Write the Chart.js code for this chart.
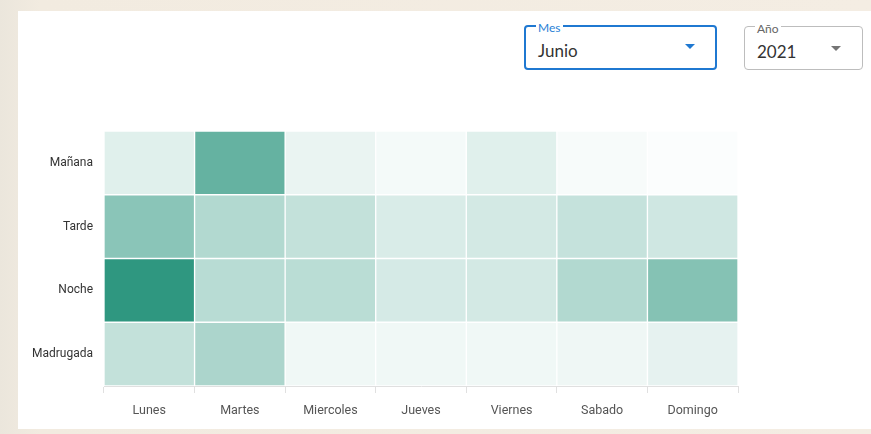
<!DOCTYPE html>
<html>
<head>
<meta charset="utf-8">
<script src="https://cdn.jsdelivr.net/npm/chart.js@4.4.0/dist/chart.umd.min.js"></script>
<style>
  html, body { margin:0; padding:0; }
  body { width:871px; height:434px; position:relative; overflow:hidden;
         background: linear-gradient(90deg, #ebe6dc 0px, #f2ebe0 40px, #f4ede3 100%); }
  #card { position:absolute; left:18px; top:11px; width:853px; height:418px; background:#fff; }
  .sel { position:absolute; box-sizing:border-box; border-radius:4px; font-family:Lato, "Open Sans", sans-serif; }
  .sel .lab { position:absolute; top:-6px; background:#fff; padding:0 2px; font-size:12px; line-height:14px; }
  .sel .val { position:absolute; font-size:17px; line-height:20px; color:#333; }
  .sel .arr { position:absolute; width:0; height:0; border-left:5px solid transparent; border-right:5px solid transparent; }
  #mes { left:524px; top:25px; width:193px; height:45px; border:2px solid #1f78d1; }
  #mes .lab { left:10px; color:#2a7fd6; }
  #mes .val { left:12px; top:14px; }
  #mes .arr { left:159px; top:17px; border-top:5px solid #1f78d1; }
  #anio { left:744px; top:26px; width:119px; height:44px; border:1px solid #bdbdbd; }
  #anio .lab { left:10px; color:#666; top:-5px; }
  #anio .val { left:12px; top:15px; }
  #anio .arr { left:86px; top:19px; border-top:5px solid #757575; }
  #wrap { position:absolute; left:18px; top:100px; width:853px; height:329px; }
</style>
</head>
<body>
<div id="card"></div>
<div class="sel" id="mes"><span class="lab">Mes</span><span class="val">Junio</span><span class="arr"></span></div>
<div class="sel" id="anio"><span class="lab">Año</span><span class="val">2021</span><span class="arr"></span></div>
<div id="wrap"><canvas id="c" width="853" height="329"></canvas></div>
<script>
const days = ["Lunes","Martes","Miercoles","Jueves","Viernes","Sabado","Domingo"];
const periods = ["Mañana","Tarde","Noche","Madrugada"];
const manana    = [15, 74, 10, 5, 15, 4, 2];
const tarde     = [56, 37, 29, 18, 21, 28, 23];
const noche     = [100, 34, 33, 20, 21, 37, 59];
const madrugada = [29, 40, 7, 7, 7, 8, 12];

const rows = [manana, tarde, noche, madrugada];
const maxVal = Math.max(...rows.flat());
function colorFor(v) {
  const a = v / maxVal;
  return `rgba(47,151,128,${a.toFixed(3)})`;
}
// stack from bottom: Madrugada, Noche, Tarde, Mañana
const order = [3, 2, 1, 0];
const datasets = order.map(ri => ({
  label: periods[ri],
  data: days.map(() => 1),
  backgroundColor: rows[ri].map(colorFor),
  borderColor: '#ffffff',
  borderWidth: 1,
  borderSkipped: false,
  barPercentage: 1,
  categoryPercentage: 1
}));

new Chart(document.getElementById('c'), {
  type: 'bar',
  data: { labels: days, datasets },
  options: {
    responsive: false,
    animation: false,
    layout: { padding: { left: 0, right: 133, top: 31, bottom: 0 } },
    plugins: { legend: { display: false }, tooltip: { enabled: false } },
    scales: {
      x: {
        stacked: true,
        grid: { drawOnChartArea: false, color: '#e0e0e0', tickLength: 7, offset: true },
        border: { color: '#e0e0e0' },
        ticks: { color: '#555', font: { family: 'Roboto', size: 12.5 }, padding: 10 },
        afterFit: s => { s.height = 43; }
      },
      y: {
        stacked: true,
        min: 0, max: 4,
        grid: { display: false },
        border: { display: false },
        afterBuildTicks: s => { s.ticks = order.map((ri, i) => ({ value: i + 0.5 })); },
        ticks: {
          color: '#333', font: { family: 'Roboto', size: 12 }, padding: 3,
          callback: (v) => periods[order[Math.floor(v)]]
        },
        afterFit: s => { s.width = 86; }
      }
    }
  }
});
</script>
</body>
</html>
